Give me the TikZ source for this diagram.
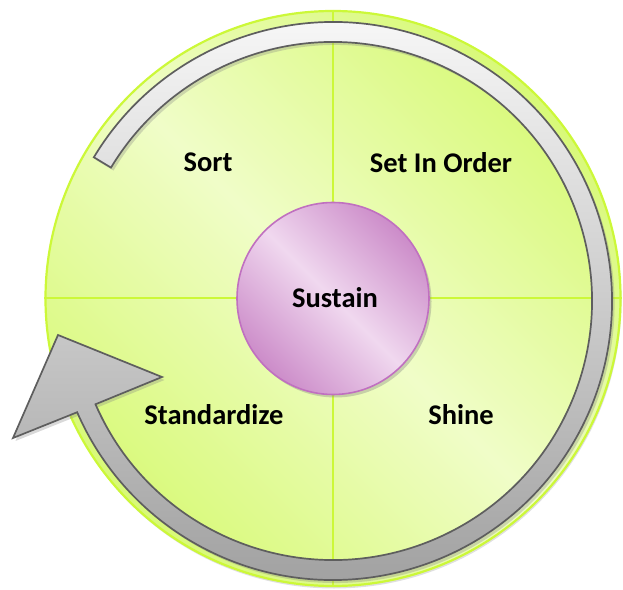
\documentclass[tikz,border=0pt]{standalone}
\usepackage{fontspec}
\setmainfont{Carlito}
\usetikzlibrary{shadows,calc}
\definecolor{rimgreen}{HTML}{CCF838}
\definecolor{leafdark}{HTML}{D8F978}
\definecolor{leaflight}{HTML}{F0FDC8}
\definecolor{plumdark}{HTML}{CC8CC9}
\definecolor{plumlight}{HTML}{F0D8EF}
\definecolor{plumrim}{HTML}{C070C0}
\definecolor{arrowtop}{HTML}{FCFCFC}
\definecolor{arrowbot}{HTML}{9C9C9C}
\definecolor{arrowrim}{HTML}{5E5E5E}
\tikzset{
  lbl/.style={font=\bfseries\fontsize{28.5}{34}\selectfont, anchor=base, inner sep=0pt},
  disc/.style={circle, draw=rimgreen, line width=2.2pt,
    top color=leafdark, bottom color=leafdark, middle color=leaflight, shading angle=-45,
    drop shadow={shadow xshift=1pt, shadow yshift=-2.5pt, opacity=0.25}},
  divider/.style={draw=rimgreen, line width=2pt},
  core/.style={circle, draw=plumrim, line width=1.6pt,
    top color=plumdark, bottom color=plumdark, middle color=plumlight, shading angle=-45,
    drop shadow={shadow xshift=2.5pt, shadow yshift=-3pt, opacity=0.35}},
  ringarrow/.style={draw=arrowrim, line width=1.7pt, line join=miter,
    top color=arrowtop, bottom color=arrowbot,
    drop shadow={shadow xshift=2.5pt, shadow yshift=-3pt, opacity=0.3}}
}
\begin{document}
\begin{tikzpicture}[x=1pt,y=1pt]
\useasboundingbox (0,0) rectangle (623,589);
% outer green disc
\node[disc, minimum size=575pt] (wheel) at (333,290.5) {};
\draw[divider] (wheel.west) -- (wheel.east);
\draw[divider] (wheel.north) -- (wheel.south);
% quadrant labels
\node[lbl] (sort) at (208,417) {Sort};
\node[lbl] (order) at (441,416) {Set In Order};
\node[lbl] (std) at (214,164) {Standardize};
\node[lbl] (shine) at (461,164) {Shine};
% centre
\node[core, minimum size=192pt] (hubdisc) at (333,290.5) {};
\node[lbl] (sustain) at (335,281) {Sustain};
% circular arrow
\coordinate (hub) at (333,288);
\coordinate (headL) at (13,151);
\coordinate (headT) at (58,254);
\coordinate (headR) at (162,212);
\path[ringarrow]
  ($(hub)+(149:279)$) arc[start angle=149, end angle=-156.5, radius=279]
  -- (headL) -- (headT) -- (headR)
  -- ($(hub)+(-156.5:259)$) arc[start angle=-156.5, end angle=149, radius=259]
  -- cycle;
\end{tikzpicture}
\end{document}
